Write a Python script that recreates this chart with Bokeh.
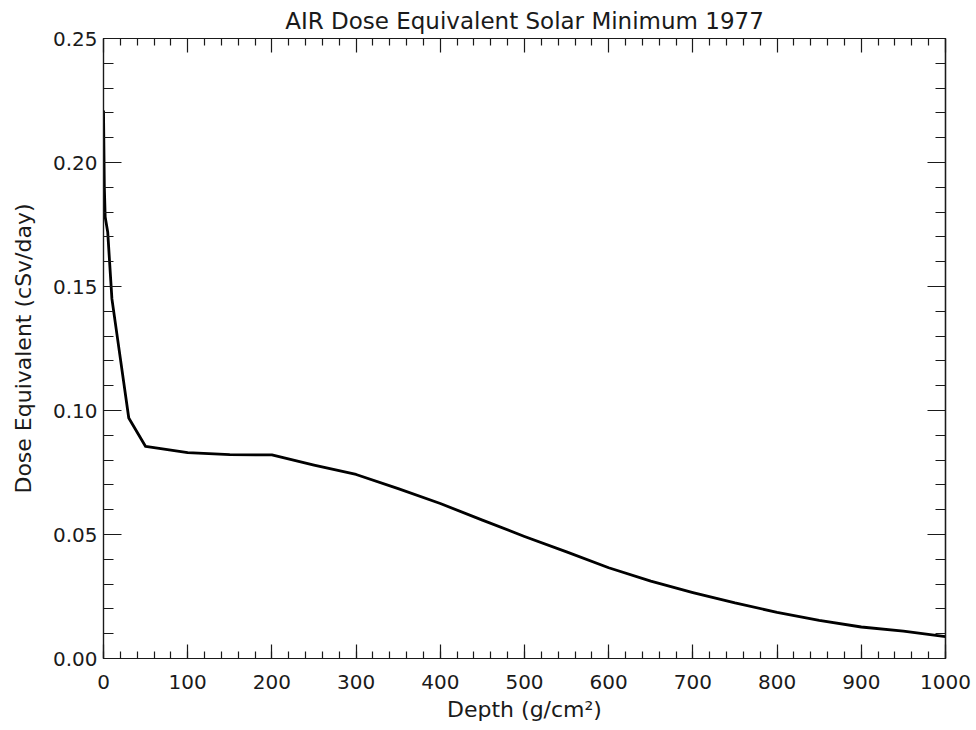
from bokeh.plotting import figure
from bokeh.models import (LinearAxis, SingleIntervalTicker, FixedTicker,
                          PrintfTickFormatter, Range1d)
from bokeh.embed import file_html
from bokeh.resources import INLINE

# Dose equivalent in air versus atmospheric depth, solar minimum 1977
depth = [0, 1, 2, 5, 10, 20, 30, 50, 100, 150, 200, 250, 300, 350, 400, 450,
         500, 550, 600, 650, 700, 750, 800, 850, 900, 950, 1000]
dose = [0.221, 0.190, 0.178, 0.172, 0.145, 0.121, 0.097, 0.0855, 0.0830,
        0.0822, 0.0821, 0.0780, 0.0742, 0.0685, 0.0625, 0.0558, 0.0492,
        0.0430, 0.0366, 0.0312, 0.0266, 0.0224, 0.0186, 0.0154, 0.0127,
        0.0110, 0.0088]

# tick positions for the frame (major / minor)
x_major = [0, 100, 200, 300, 400, 500, 600, 700, 800, 900, 1000]
x_minor = [v for v in range(0, 1001, 20) if v % 100]
y_major = [0.0, 0.05, 0.10, 0.15, 0.20, 0.25]
y_minor = [round(i * 0.01, 2) for i in range(26) if i % 5]

FONT = "DejaVu Sans"
INK = "#1a1a1a"

p = figure(width=976, height=730, frame_width=842, frame_height=620,
           output_backend="svg", toolbar_location=None,
           x_range=Range1d(0, 1000), y_range=Range1d(0, 0.25),
           min_border_left=103, min_border_right=31,
           min_border_top=38, min_border_bottom=72,
           x_axis_label="Depth (g/cm²)",
           y_axis_label="Dose Equivalent (cSv/day)",
           title="AIR Dose Equivalent Solar Minimum 1977")

p.title.align = "center"
p.title.text_font = FONT
p.title.text_font_style = "normal"
p.title.text_font_size = "23px"
p.title.text_color = INK
p.title.offset = 0
p.title.standoff = 9

p.xgrid.visible = False
p.ygrid.visible = False
p.outline_line_color = INK
p.outline_line_width = 1.2
p.background_fill_color = "white"
p.border_fill_color = "white"


def style_ticks(ax, major_len, minor_len):
    ax.axis_line_color = INK
    ax.axis_line_width = 1.2
    ax.major_tick_in = major_len
    ax.major_tick_out = 0
    ax.minor_tick_in = minor_len
    ax.minor_tick_out = 0
    ax.major_tick_line_color = INK
    ax.minor_tick_line_color = INK
    ax.major_tick_line_width = 1.2
    ax.minor_tick_line_width = 1.2


def style_labels(ax, standoff, label_standoff):
    ax.major_label_text_font = FONT
    ax.major_label_text_color = INK
    ax.major_label_text_font_size = "20px"
    ax.major_label_standoff = standoff
    ax.axis_label_text_font = FONT
    ax.axis_label_text_font_style = "normal"
    ax.axis_label_text_color = INK
    ax.axis_label_text_font_size = "22px"
    ax.axis_label_standoff = label_standoff


xa = p.xaxis[0]
xa.ticker = SingleIntervalTicker(interval=100, num_minor_ticks=5)
style_ticks(xa, 14, 7)
style_labels(xa, 16, 5)

ya = p.yaxis[0]
ya.ticker = SingleIntervalTicker(interval=0.05, num_minor_ticks=5)
ya.formatter = PrintfTickFormatter(format="%.2f")
style_ticks(ya, 18, 10)
style_labels(ya, 6, 14)

# Unlabelled tick rows on the top and right edges of the frame
for side, major, minor, mlen, nlen in (("above", x_major, x_minor, 14, 7),
                                       ("right", y_major, y_minor, 18, 10)):
    for ticks, length in ((major, mlen), (minor, nlen)):
        ax = LinearAxis(ticker=FixedTicker(ticks=[], minor_ticks=ticks),
                        axis_label=None, major_label_standoff=0,
                        axis_label_standoff=0)
        style_ticks(ax, 0, length)
        p.add_layout(ax, side)

p.line(depth, dose, line_color="black", line_width=2.8, line_join="round")

open("out.html", "w").write(file_html(p, INLINE))
